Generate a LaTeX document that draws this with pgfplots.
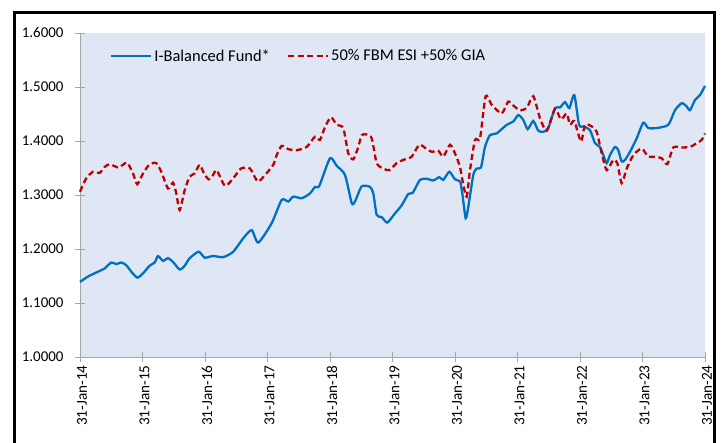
\documentclass[border=0pt]{standalone}
\usepackage{fontspec}
\setmainfont{Carlito}
\usepackage{pgfplots}
\pgfplotsset{compat=1.18}
\definecolor{bgblue}{HTML}{DFE7F4}
\definecolor{fundblue}{HTML}{0070C0}
\definecolor{benchred}{HTML}{C00000}
\definecolor{axgray}{HTML}{A6A6A6}
\begin{document}
\begin{tikzpicture}
\begin{axis}[
  scale only axis, width=625bp, height=324bp,
  xmin=0, xmax=120, ymin=1.0, ymax=1.6,
  axis background/.style={fill=bgblue},
  axis x line*=bottom, axis y line*=left,
  axis line style={axgray, line width=0.8bp},
  every tick/.style={axgray, line width=0.8bp},
  tick align=center, major tick length=10bp,
  xtick={0,12,...,120},
  xticklabels={31-Jan-14,31-Jan-15,31-Jan-16,31-Jan-17,31-Jan-18,31-Jan-19,31-Jan-20,31-Jan-21,31-Jan-22,31-Jan-23,31-Jan-24},
  xticklabel style={rotate=90, anchor=east, font=\fontsize{15.3}{18}\selectfont, yshift=-2bp},
  ytick={1.0,1.1,...,1.61},
  yticklabel style={font=\fontsize{15}{18}\selectfont, xshift=-8bp},
  /pgf/number format/assume math mode=true,
  yticklabel={\pgfmathprintnumber[fixed, fixed zerofill, precision=4, assume math mode=true]{\tick}},
  legend columns=2,
  legend style={at={(0.048,0.929)}, anchor=west, draw=none, fill=none,
    font=\fontsize{16.5}{19}\selectfont, inner sep=0pt,
    /tikz/every even column/.append style={column sep=15bp}},
  legend image code/.code={\draw[#1] (0bp,0bp) -- (40bp,0bp);},
  clip=false,
]
\addplot[fundblue, line width=2.3bp, smooth, tension=0.4] coordinates {
(0,1.139)(1.54,1.149)(3.46,1.158)(4.74,1.164)(6.01,1.175)(6.97,1.172)(7.93,1.175)(8.89,1.170)
(9.85,1.158)(11.0,1.147)(12.1,1.155)(13.38,1.169)(14.34,1.175)(14.98,1.187)(15.94,1.178)(16.9,1.183)
(17.86,1.176)(19.14,1.162)(20.1,1.169)(21.06,1.183)(22.79,1.195)(23.94,1.184)(25.54,1.187)(27.51,1.185)
(29.43,1.195)(31.35,1.220)(32.97,1.235)(34.23,1.212)(36.81,1.248)(38.73,1.291)(39.99,1.288)(40.95,1.297)
(42.57,1.294)(44.16,1.303)(45.12,1.315)(45.95,1.317)(48.0,1.368)(49.29,1.354)(50.88,1.337)(52.17,1.285)
(52.8,1.288)(54.09,1.316)(55.68,1.315)(56.31,1.303)(56.97,1.263)(57.93,1.259)(59.0,1.249)(60.48,1.266)
(61.77,1.281)(63.03,1.302)(63.88,1.304)(65.28,1.328)(66.57,1.330)(67.83,1.327)(68.99,1.333)(69.75,1.328)
(70.91,1.343)(72.0,1.329)(72.96,1.325)(73.4,1.303)(74.05,1.257)(74.55,1.278)(75.51,1.337)(76.17,1.349)
(76.99,1.351)(77.76,1.389)(78.72,1.411)(80.0,1.414)(81.93,1.430)(83.19,1.436)(84.15,1.448)(85.11,1.439)
(85.96,1.422)(87.03,1.437)(87.99,1.419)(88.95,1.417)(89.91,1.424)(91.2,1.461)(92.16,1.462)(93.12,1.472)
(93.95,1.461)(94.91,1.485)(95.81,1.430)(96.63,1.427)(97.92,1.420)(98.88,1.396)(99.84,1.389)(100.47,1.374)
(101.13,1.359)(101.76,1.374)(102.72,1.389)(103.35,1.383)(104.0,1.362)(104.64,1.365)(105.6,1.380)(106.89,1.405)
(108.15,1.434)(109.11,1.424)(110.73,1.424)(112.95,1.430)(114.24,1.457)(115.53,1.470)(116.49,1.464)(117.12,1.457)
(118.08,1.476)(119.04,1.485)(120,1.502)
};
\addlegendentry{I-Balanced Fund*}
\addplot[benchred, line width=2.3bp, dash pattern=on 6bp off 3.5bp, smooth, tension=0.4] coordinates {
(0,1.306)(1.21,1.331)(2.5,1.343)(3.78,1.341)(4.74,1.352)(5.7,1.357)(7.3,1.351)(8.26,1.356)
(9.08,1.360)(10.18,1.340)(11.0,1.320)(12.1,1.340)(13.38,1.357)(14.65,1.359)(15.61,1.343)(16.9,1.312)
(17.86,1.323)(18.49,1.303)(19.14,1.272)(20.1,1.309)(21.06,1.334)(22.02,1.340)(22.98,1.356)(23.81,1.340)
(24.71,1.329)(25.54,1.337)(26.25,1.346)(27.84,1.317)(29.43,1.331)(30.91,1.349)(32.64,1.349)(34.12,1.325)
(35.52,1.337)(37.11,1.356)(37.77,1.374)(38.73,1.391)(39.99,1.385)(41.61,1.383)(43.53,1.389)(45.12,1.408)
(46.08,1.402)(47.04,1.426)(48.19,1.444)(49.29,1.430)(50.55,1.424)(51.51,1.377)(52.47,1.366)(53.43,1.389)
(54.09,1.411)(55.05,1.412)(56.01,1.405)(56.97,1.359)(58.23,1.349)(59.39,1.346)(60.81,1.359)(62.07,1.365)
(63.69,1.371)(65.15,1.393)(66.57,1.385)(67.53,1.380)(68.79,1.382)(69.75,1.371)(71.04,1.393)(72.0,1.377)
(72.96,1.352)(73.59,1.319)(74.25,1.297)(74.88,1.346)(75.84,1.402)(76.8,1.405)(77.89,1.483)(79.05,1.467)
(80.97,1.451)(82.23,1.473)(83.39,1.464)(84.48,1.457)(85.77,1.461)(87.03,1.483)(88.32,1.442)(89.61,1.419)
(91.2,1.459)(92.35,1.440)(93.45,1.451)(94.08,1.430)(94.91,1.437)(96.19,1.399)(96.96,1.430)(98.25,1.427)
(99.21,1.417)(100.17,1.377)(101.13,1.346)(102.39,1.365)(103.16,1.359)(104.0,1.322)(104.97,1.349)(106.25,1.374)
(107.85,1.386)(109.11,1.371)(110.4,1.371)(111.69,1.368)(112.76,1.357)(113.91,1.388)(115.53,1.388)(117.12,1.389)
(118.4,1.396)(119.36,1.402)(120,1.414)
};
\addlegendentry{50\% FBM ESI +50\% GIA}
\end{axis}
\draw[line width=2.5bp,black] (-65.5bp,344.3bp) rectangle (634.5bp,-106bp);
\pgfresetboundingbox
\useasboundingbox (-80bp,-86bp) rectangle (647bp,357bp);
\end{tikzpicture}
\end{document}
